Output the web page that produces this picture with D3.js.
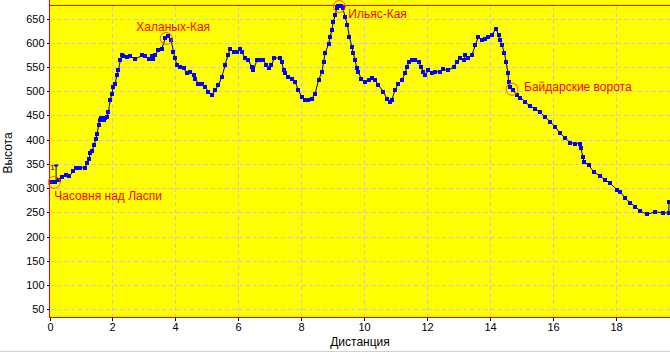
<!DOCTYPE html>
<meta charset="utf-8">
<style>
body{ margin: 0px; background: #fff; }
svg{ display: block; font-family: "Liberation Sans", Arial, sans-serif; }
.axis path{ display: none; }
.axis line{ stroke: #000; shape-rendering: crispEdges; }
.axis text{ font-size: 11px; fill: #000; }
.grid{ stroke: #c8c4e4; stroke-dasharray: 4,3; shape-rendering: crispEdges; }
</style>
<body></body>
<script src="https://cdn.jsdelivr.net/npm/d3@7"></script>
<script>

var width = 670, height = 352

// profile: distance (km) / elevation (m)
var dist = [0.08,0.18,0.29,0.39,0.52,0.63,0.76,0.84,0.98,1.13,1.18,1.26,1.29,1.35,1.42,1.47,1.51,1.56,1.59,1.64,1.72,1.77,1.82,1.87,1.93,1.98,2.03,2.09,2.14,2.19,2.25,2.30,2.35,2.46,2.56,2.72,2.94,3.04,3.15,3.25,3.30,3.36,3.46,3.57,3.68,3.78,3.87,3.94,3.99,4.05,4.15,4.26,4.37,4.47,4.58,4.63,4.73,4.84,4.95,5.05,5.16,5.27,5.37,5.48,5.58,5.67,5.74,5.85,5.95,6.06,6.11,6.22,6.32,6.43,6.48,6.59,6.70,6.80,6.89,6.96,7.04,7.15,7.31,7.38,7.44,7.49,7.59,7.70,7.81,7.91,8.02,8.13,8.23,8.34,8.44,8.55,8.66,8.71,8.76,8.87,8.92,8.97,9.02,9.08,9.13,9.18,9.26,9.32,9.40,9.47,9.53,9.61,9.66,9.71,9.77,9.82,9.90,10.03,10.14,10.24,10.35,10.45,10.61,10.72,10.83,10.88,10.98,11.09,11.20,11.30,11.36,11.43,11.52,11.62,11.73,11.81,11.88,11.94,12.04,12.15,12.26,12.42,12.52,12.68,12.84,12.95,13.05,13.16,13.21,13.31,13.42,13.53,13.63,13.74,13.85,13.95,14.06,14.19,14.27,14.32,14.38,14.46,14.51,14.57,14.59,14.64,14.74,14.85,14.96,15.12,15.27,15.43,15.59,15.75,15.91,16.07,16.23,16.39,16.55,16.71,16.86,16.89,16.95,16.99,17.13,17.29,17.50,17.66,17.82,18.03,18.14,18.30,18.45,18.61,18.77,18.98,19.25,19.49,19.68,19.69]
var elev = [313,313,317,323,327,325,335,341,342,342,351,361,372,376,389,402,411,430,440,444,440,444,446,457,482,495,509,516,533,543,564,574,572,571,573,566,574,573,566,573,566,574,585,588,609,614,605,581,568,554,550,547,537,540,533,526,516,514,509,499,492,502,513,530,554,574,588,581,581,587,581,568,564,550,543,564,565,565,554,547,554,568,569,561,543,537,530,526,519,502,488,482,482,485,495,523,540,561,578,598,612,626,643,657,671,677,675,671,653,636,612,591,578,564,547,540,526,519,523,528,523,513,499,485,478,482,502,516,523,537,550,561,565,565,561,550,540,533,543,537,540,540,545,543,550,561,568,564,574,568,574,595,612,605,607,613,616,629,616,605,595,578,561,538,519,509,502,492,487,478,469,464,457,447,437,427,413,403,394,392,392,382,365,354,348,334,325,317,310,297,292,279,270,262,253,246,251,249,249,272]

// named points
var placeNames = ['Часовня над Ласпи', 'Халаных-Кая', 'Ильяс-Кая', 'Байдарские ворота']
var placeDist  = [0.15, 3.71, 9.21, 14.70]
var placeElev  = [312, 609, 675, 504]

var xTicks = [0,2,4,6,8,10,12,14,16,18]
var yTicks = [50,100,150,200,250,300,350,400,450,500,550,600,650]

var x = d3.scaleLinear().domain([0, 19.72]).range([49.5, 670])
var y = d3.scaleLinear().domain([33, 677]).range([317.5, 5.5])

var svg = d3.select('body').append('svg')
	.attr('width', width).attr('height', height)

svg.append('rect')
	.attr('x', 50).attr('y', 0).attr('width', 620).attr('height', 317)
	.attr('fill', '#ffff00')

// grid
svg.selectAll('.gx').data(xTicks.filter(function(d){ return d > 0 }))
	.enter().append('line').attr('class', 'grid')
	.attr('x1', function(d){ return Math.round(x(d)) + 0.5 })
	.attr('x2', function(d){ return Math.round(x(d)) + 0.5 })
	.attr('y1', 6).attr('y2', 317)
svg.selectAll('.gy').data(yTicks)
	.enter().append('line').attr('class', 'grid')
	.attr('y1', function(d){ return Math.round(y(d)) + 0.5 })
	.attr('y2', function(d){ return Math.round(y(d)) + 0.5 })
	.attr('x1', 50).attr('x2', 670)

// axes
svg.append('g').attr('class', 'axis')
	.attr('transform', 'translate(49.5,0)')
	.call(d3.axisLeft(y).tickValues(yTicks).tickSize(3).tickPadding(2)
		.tickFormat(d3.format('d')))
	.selectAll('.tick').attr('transform', function(d){ return 'translate(0,' + (Math.round(y(d)) + 0.5) + ')' })

svg.append('g').attr('class', 'axis')
	.attr('transform', 'translate(0,317.5)')
	.call(d3.axisBottom(x).tickValues(xTicks).tickSize(3).tickPadding(3)
		.tickFormat(d3.format('d')))
	.selectAll('.tick').attr('transform', function(d){ return 'translate(' + (Math.round(x(d)) + 0.5) + ',0)' })

// frame
svg.append('line').attr('x1', 49.5).attr('x2', 49.5).attr('y1', 0).attr('y2', 318)
	.attr('stroke', '#ff0000').attr('shape-rendering', 'crispEdges')
svg.append('line').attr('x1', 49).attr('x2', 670).attr('y1', 317.5).attr('y2', 317.5)
	.attr('stroke', '#ff0000').attr('shape-rendering', 'crispEdges')
svg.append('line').attr('x1', 50).attr('x2', 670).attr('y1', 5.5).attr('y2', 5.5)
	.attr('stroke', '#ff0000').attr('shape-rendering', 'crispEdges')

svg.append('text').attr('x', 360).attr('y', 346)
	.attr('text-anchor', 'middle').attr('font-size', 12).text('Дистанция')
svg.append('text').attr('transform', 'translate(12,153) rotate(-90)')
	.attr('text-anchor', 'middle').attr('font-size', 12).text('Высота')

// profile
var pts = dist.map(function(d, i){ return [d, elev[i]] })

svg.append('path').datum(pts)
	.attr('fill', 'none').attr('stroke', '#000').attr('stroke-width', 1)
	.attr('d', d3.line().x(function(d){ return x(d[0]) }).y(function(d){ return y(d[1]) }))

svg.selectAll('.pt').data(pts).enter().append('rect')
	.attr('x', function(d){ return Math.round(x(d[0])) - 2 })
	.attr('y', function(d){ return Math.round(y(d[1])) - 2 })
	.attr('width', 4).attr('height', 4)
	.attr('fill', '#0000ff')

// start flag
svg.append('line').attr('x1', x(0.21)).attr('x2', x(0.21))
	.attr('y1', y(313)).attr('y2', y(347)).attr('stroke', '#000')
svg.append('line').attr('x1', x(0.21) - 2).attr('x2', x(0.21) + 2)
	.attr('y1', y(347)).attr('y2', y(347)).attr('stroke', '#0000cc').attr('stroke-width', 2)
svg.append('text').attr('x', x(0.02)).attr('y', y(337)).attr('font-size', 8).text('1')

// labelled points
var offs = [[0, 18, 'start'], [7, -7, 'middle'], [9, 12, 'start'], [12, 2, 'start']]
placeNames.forEach(function(name, i){
	var cx = x(placeDist[i]), cy = y(placeElev[i])
	svg.append('circle').attr('cx', cx).attr('cy', cy).attr('r', 6)
		.attr('fill', 'none').attr('stroke', '#f05a14')
	svg.append('text').attr('x', cx + offs[i][0]).attr('y', cy + offs[i][1])
		.attr('text-anchor', offs[i][2]).attr('font-size', 12).attr('fill', '#ff0000')
		.text(name)
})

svg.append('rect').attr('x', 0).attr('y', 351).attr('width', width).attr('height', 1)
	.attr('fill', '#d4d0c8')

</script>
